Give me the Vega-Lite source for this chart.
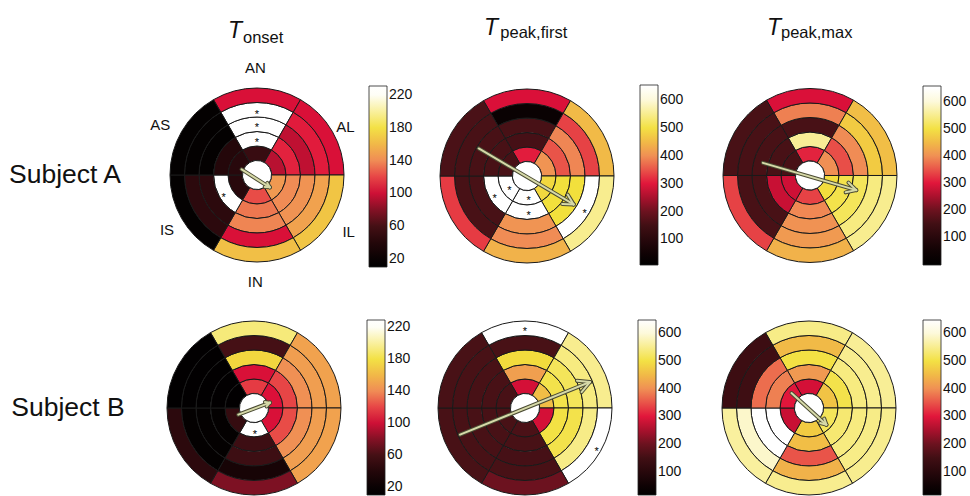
{
"$schema": "https://vega.github.io/schema/vega-lite/v6.json",
"padding": 0,
"spacing": 0,
"config": {"view": {"stroke": null}, "font": "Liberation Sans", "concat": {"spacing": 0},
  "legend": {"gradientStrokeColor": "#222222", "gradientStrokeWidth": 0.8, "labelFontSize": 14, "labelColor": "#111111", "labelOffset": 4, "padding": 0, "labelOverlap": false, "labelFont": "Liberation Sans"}},
"datasets": {
"cellsA1": [
{"s":"AN","a0":-30,"a1":30,"r0":1,"r1":2,"v":52},{"s":"AN","a0":-30,"a1":30,"r0":2,"r1":3,"v":225},{"s":"AN","a0":-30,"a1":30,"r0":3,"r1":4,"v":225},{"s":"AN","a0":-30,"a1":30,"r0":4,"r1":5,"v":225},{"s":"AN","a0":-30,"a1":30,"r0":5,"r1":6,"v":103},
{"s":"AL","a0":30,"a1":90,"r0":1,"r1":2,"v":94},{"s":"AL","a0":30,"a1":90,"r0":2,"r1":3,"v":110},{"s":"AL","a0":30,"a1":90,"r0":3,"r1":4,"v":96},{"s":"AL","a0":30,"a1":90,"r0":4,"r1":5,"v":108},{"s":"AL","a0":30,"a1":90,"r0":5,"r1":6,"v":103},
{"s":"IL","a0":90,"a1":150,"r0":1,"r1":2,"v":146},{"s":"IL","a0":90,"a1":150,"r0":2,"r1":3,"v":140},{"s":"IL","a0":90,"a1":150,"r0":3,"r1":4,"v":143},{"s":"IL","a0":90,"a1":150,"r0":4,"r1":5,"v":150},{"s":"IL","a0":90,"a1":150,"r0":5,"r1":6,"v":166},
{"s":"IN","a0":150,"a1":210,"r0":1,"r1":2,"v":122},{"s":"IN","a0":150,"a1":210,"r0":2,"r1":3,"v":134},{"s":"IN","a0":150,"a1":210,"r0":3,"r1":4,"v":138},{"s":"IN","a0":150,"a1":210,"r0":4,"r1":5,"v":103},{"s":"IN","a0":150,"a1":210,"r0":5,"r1":6,"v":163},
{"s":"IS","a0":210,"a1":270,"r0":1,"r1":2,"v":42},{"s":"IS","a0":210,"a1":270,"r0":2,"r1":3,"v":225},{"s":"IS","a0":210,"a1":270,"r0":3,"r1":4,"v":45},{"s":"IS","a0":210,"a1":270,"r0":4,"r1":5,"v":45},{"s":"IS","a0":210,"a1":270,"r0":5,"r1":6,"v":14},
{"s":"AS","a0":270,"a1":330,"r0":1,"r1":2,"v":42},{"s":"AS","a0":270,"a1":330,"r0":2,"r1":3,"v":40},{"s":"AS","a0":270,"a1":330,"r0":3,"r1":4,"v":14},{"s":"AS","a0":270,"a1":330,"r0":4,"r1":5,"v":14},{"s":"AS","a0":270,"a1":330,"r0":5,"r1":6,"v":14}
],
"cellsA2": [
{"s":"AN","a0":-30,"a1":30,"r0":1,"r1":2,"v":305},{"s":"AN","a0":-30,"a1":30,"r0":2,"r1":3,"v":160},{"s":"AN","a0":-30,"a1":30,"r0":3,"r1":4,"v":165},{"s":"AN","a0":-30,"a1":30,"r0":4,"r1":5,"v":35},{"s":"AN","a0":-30,"a1":30,"r0":5,"r1":6,"v":290},
{"s":"AL","a0":30,"a1":90,"r0":1,"r1":2,"v":405},{"s":"AL","a0":30,"a1":90,"r0":2,"r1":3,"v":350},{"s":"AL","a0":30,"a1":90,"r0":3,"r1":4,"v":390},{"s":"AL","a0":30,"a1":90,"r0":4,"r1":5,"v":335},{"s":"AL","a0":30,"a1":90,"r0":5,"r1":6,"v":450},
{"s":"IL","a0":90,"a1":150,"r0":1,"r1":2,"v":485},{"s":"IL","a0":90,"a1":150,"r0":2,"r1":3,"v":495},{"s":"IL","a0":90,"a1":150,"r0":3,"r1":4,"v":495},{"s":"IL","a0":90,"a1":150,"r0":4,"r1":5,"v":640},{"s":"IL","a0":90,"a1":150,"r0":5,"r1":6,"v":550},
{"s":"IN","a0":150,"a1":210,"r0":1,"r1":2,"v":640},{"s":"IN","a0":150,"a1":210,"r0":2,"r1":3,"v":640},{"s":"IN","a0":150,"a1":210,"r0":3,"r1":4,"v":405},{"s":"IN","a0":150,"a1":210,"r0":4,"r1":5,"v":395},{"s":"IN","a0":150,"a1":210,"r0":5,"r1":6,"v":440},
{"s":"IS","a0":210,"a1":270,"r0":1,"r1":2,"v":640},{"s":"IS","a0":210,"a1":270,"r0":2,"r1":3,"v":640},{"s":"IS","a0":210,"a1":270,"r0":3,"r1":4,"v":165},{"s":"IS","a0":210,"a1":270,"r0":4,"r1":5,"v":165},{"s":"IS","a0":210,"a1":270,"r0":5,"r1":6,"v":330},
{"s":"AS","a0":270,"a1":330,"r0":1,"r1":2,"v":165},{"s":"AS","a0":270,"a1":330,"r0":2,"r1":3,"v":165},{"s":"AS","a0":270,"a1":330,"r0":3,"r1":4,"v":165},{"s":"AS","a0":270,"a1":330,"r0":4,"r1":5,"v":165},{"s":"AS","a0":270,"a1":330,"r0":5,"r1":6,"v":168}
],
"cellsA3": [
{"s":"AN","a0":-30,"a1":30,"r0":1,"r1":2,"v":310},{"s":"AN","a0":-30,"a1":30,"r0":2,"r1":3,"v":555},{"s":"AN","a0":-30,"a1":30,"r0":3,"r1":4,"v":165},{"s":"AN","a0":-30,"a1":30,"r0":4,"r1":5,"v":385},{"s":"AN","a0":-30,"a1":30,"r0":5,"r1":6,"v":290},
{"s":"AL","a0":30,"a1":90,"r0":1,"r1":2,"v":398},{"s":"AL","a0":30,"a1":90,"r0":2,"r1":3,"v":345},{"s":"AL","a0":30,"a1":90,"r0":3,"r1":4,"v":395},{"s":"AL","a0":30,"a1":90,"r0":4,"r1":5,"v":470},{"s":"AL","a0":30,"a1":90,"r0":5,"r1":6,"v":455},
{"s":"IL","a0":90,"a1":150,"r0":1,"r1":2,"v":490},{"s":"IL","a0":90,"a1":150,"r0":2,"r1":3,"v":505},{"s":"IL","a0":90,"a1":150,"r0":3,"r1":4,"v":515},{"s":"IL","a0":90,"a1":150,"r0":4,"r1":5,"v":540},{"s":"IL","a0":90,"a1":150,"r0":5,"r1":6,"v":550},
{"s":"IN","a0":150,"a1":210,"r0":1,"r1":2,"v":335},{"s":"IN","a0":150,"a1":210,"r0":2,"r1":3,"v":392},{"s":"IN","a0":150,"a1":210,"r0":3,"r1":4,"v":402},{"s":"IN","a0":150,"a1":210,"r0":4,"r1":5,"v":412},{"s":"IN","a0":150,"a1":210,"r0":5,"r1":6,"v":440},
{"s":"IS","a0":210,"a1":270,"r0":1,"r1":2,"v":280},{"s":"IS","a0":210,"a1":270,"r0":2,"r1":3,"v":275},{"s":"IS","a0":210,"a1":270,"r0":3,"r1":4,"v":165},{"s":"IS","a0":210,"a1":270,"r0":4,"r1":5,"v":165},{"s":"IS","a0":210,"a1":270,"r0":5,"r1":6,"v":335},
{"s":"AS","a0":270,"a1":330,"r0":1,"r1":2,"v":165},{"s":"AS","a0":270,"a1":330,"r0":2,"r1":3,"v":165},{"s":"AS","a0":270,"a1":330,"r0":3,"r1":4,"v":165},{"s":"AS","a0":270,"a1":330,"r0":4,"r1":5,"v":165},{"s":"AS","a0":270,"a1":330,"r0":5,"r1":6,"v":165}
],
"cellsB1": [
{"s":"AN","a0":-30,"a1":30,"r0":1,"r1":2,"v":117},{"s":"AN","a0":-30,"a1":30,"r0":2,"r1":3,"v":103},{"s":"AN","a0":-30,"a1":30,"r0":3,"r1":4,"v":174},{"s":"AN","a0":-30,"a1":30,"r0":4,"r1":5,"v":60},{"s":"AN","a0":-30,"a1":30,"r0":5,"r1":6,"v":192},
{"s":"AL","a0":30,"a1":90,"r0":1,"r1":2,"v":104},{"s":"AL","a0":30,"a1":90,"r0":2,"r1":3,"v":120},{"s":"AL","a0":30,"a1":90,"r0":3,"r1":4,"v":142},{"s":"AL","a0":30,"a1":90,"r0":4,"r1":5,"v":148},{"s":"AL","a0":30,"a1":90,"r0":5,"r1":6,"v":150},
{"s":"IL","a0":90,"a1":150,"r0":1,"r1":2,"v":103},{"s":"IL","a0":90,"a1":150,"r0":2,"r1":3,"v":122},{"s":"IL","a0":90,"a1":150,"r0":3,"r1":4,"v":142},{"s":"IL","a0":90,"a1":150,"r0":4,"r1":5,"v":148},{"s":"IL","a0":90,"a1":150,"r0":5,"r1":6,"v":150},
{"s":"IN","a0":150,"a1":210,"r0":1,"r1":2,"v":225},{"s":"IN","a0":150,"a1":210,"r0":2,"r1":3,"v":55},{"s":"IN","a0":150,"a1":210,"r0":3,"r1":4,"v":55},{"s":"IN","a0":150,"a1":210,"r0":4,"r1":5,"v":32},{"s":"IN","a0":150,"a1":210,"r0":5,"r1":6,"v":78},
{"s":"IS","a0":210,"a1":270,"r0":1,"r1":2,"v":50},{"s":"IS","a0":210,"a1":270,"r0":2,"r1":3,"v":14},{"s":"IS","a0":210,"a1":270,"r0":3,"r1":4,"v":14},{"s":"IS","a0":210,"a1":270,"r0":4,"r1":5,"v":14},{"s":"IS","a0":210,"a1":270,"r0":5,"r1":6,"v":45},
{"s":"AS","a0":270,"a1":330,"r0":1,"r1":2,"v":12},{"s":"AS","a0":270,"a1":330,"r0":2,"r1":3,"v":12},{"s":"AS","a0":270,"a1":330,"r0":3,"r1":4,"v":12},{"s":"AS","a0":270,"a1":330,"r0":4,"r1":5,"v":12},{"s":"AS","a0":270,"a1":330,"r0":5,"r1":6,"v":12}
],
"cellsB2": [
{"s":"AN","a0":-30,"a1":30,"r0":1,"r1":2,"v":285},{"s":"AN","a0":-30,"a1":30,"r0":2,"r1":3,"v":418},{"s":"AN","a0":-30,"a1":30,"r0":3,"r1":4,"v":490},{"s":"AN","a0":-30,"a1":30,"r0":4,"r1":5,"v":165},{"s":"AN","a0":-30,"a1":30,"r0":5,"r1":6,"v":640},
{"s":"AL","a0":30,"a1":90,"r0":1,"r1":2,"v":455},{"s":"AL","a0":30,"a1":90,"r0":2,"r1":3,"v":505},{"s":"AL","a0":30,"a1":90,"r0":3,"r1":4,"v":515},{"s":"AL","a0":30,"a1":90,"r0":4,"r1":5,"v":540},{"s":"AL","a0":30,"a1":90,"r0":5,"r1":6,"v":550},
{"s":"IL","a0":90,"a1":150,"r0":1,"r1":2,"v":285},{"s":"IL","a0":90,"a1":150,"r0":2,"r1":3,"v":500},{"s":"IL","a0":90,"a1":150,"r0":3,"r1":4,"v":505},{"s":"IL","a0":90,"a1":150,"r0":4,"r1":5,"v":545},{"s":"IL","a0":90,"a1":150,"r0":5,"r1":6,"v":640},
{"s":"IN","a0":150,"a1":210,"r0":1,"r1":2,"v":170},{"s":"IN","a0":150,"a1":210,"r0":2,"r1":3,"v":165},{"s":"IN","a0":150,"a1":210,"r0":3,"r1":4,"v":160},{"s":"IN","a0":150,"a1":210,"r0":4,"r1":5,"v":165},{"s":"IN","a0":150,"a1":210,"r0":5,"r1":6,"v":200},
{"s":"IS","a0":210,"a1":270,"r0":1,"r1":2,"v":165},{"s":"IS","a0":210,"a1":270,"r0":2,"r1":3,"v":165},{"s":"IS","a0":210,"a1":270,"r0":3,"r1":4,"v":165},{"s":"IS","a0":210,"a1":270,"r0":4,"r1":5,"v":165},{"s":"IS","a0":210,"a1":270,"r0":5,"r1":6,"v":165},
{"s":"AS","a0":270,"a1":330,"r0":1,"r1":2,"v":165},{"s":"AS","a0":270,"a1":330,"r0":2,"r1":3,"v":165},{"s":"AS","a0":270,"a1":330,"r0":3,"r1":4,"v":165},{"s":"AS","a0":270,"a1":330,"r0":4,"r1":5,"v":165},{"s":"AS","a0":270,"a1":330,"r0":5,"r1":6,"v":165}
],
"cellsB3": [
{"s":"AN","a0":-30,"a1":30,"r0":1,"r1":2,"v":285},{"s":"AN","a0":-30,"a1":30,"r0":2,"r1":3,"v":410},{"s":"AN","a0":-30,"a1":30,"r0":3,"r1":4,"v":500},{"s":"AN","a0":-30,"a1":30,"r0":4,"r1":5,"v":450},{"s":"AN","a0":-30,"a1":30,"r0":5,"r1":6,"v":545},
{"s":"AL","a0":30,"a1":90,"r0":1,"r1":2,"v":460},{"s":"AL","a0":30,"a1":90,"r0":2,"r1":3,"v":505},{"s":"AL","a0":30,"a1":90,"r0":3,"r1":4,"v":540},{"s":"AL","a0":30,"a1":90,"r0":4,"r1":5,"v":550},{"s":"AL","a0":30,"a1":90,"r0":5,"r1":6,"v":555},
{"s":"IL","a0":90,"a1":150,"r0":1,"r1":2,"v":515},{"s":"IL","a0":90,"a1":150,"r0":2,"r1":3,"v":530},{"s":"IL","a0":90,"a1":150,"r0":3,"r1":4,"v":540},{"s":"IL","a0":90,"a1":150,"r0":4,"r1":5,"v":545},{"s":"IL","a0":90,"a1":150,"r0":5,"r1":6,"v":550},
{"s":"IN","a0":150,"a1":210,"r0":1,"r1":2,"v":470},{"s":"IN","a0":150,"a1":210,"r0":2,"r1":3,"v":455},{"s":"IN","a0":150,"a1":210,"r0":3,"r1":4,"v":350},{"s":"IN","a0":150,"a1":210,"r0":4,"r1":5,"v":440},{"s":"IN","a0":150,"a1":210,"r0":5,"r1":6,"v":550},
{"s":"IS","a0":210,"a1":270,"r0":1,"r1":2,"v":275},{"s":"IS","a0":210,"a1":270,"r0":2,"r1":3,"v":635},{"s":"IS","a0":210,"a1":270,"r0":3,"r1":4,"v":635},{"s":"IS","a0":210,"a1":270,"r0":4,"r1":5,"v":590},{"s":"IS","a0":210,"a1":270,"r0":5,"r1":6,"v":560},
{"s":"AS","a0":270,"a1":330,"r0":1,"r1":2,"v":300},{"s":"AS","a0":270,"a1":330,"r0":2,"r1":3,"v":385},{"s":"AS","a0":270,"a1":330,"r0":3,"r1":4,"v":370},{"s":"AS","a0":270,"a1":330,"r0":4,"r1":5,"v":145},{"s":"AS","a0":270,"a1":330,"r0":5,"r1":6,"v":140}
],
"hole": [{"a0": -30, "a1": 330, "r0": 0, "r1": 1}],
"arrowA1": [{"x":-1.06,"y":0.39,"x2":0.88,"y2":-0.85},{"x":0.531,"y":-0.822,"x2":0.88,"y2":-0.85},{"x":0.708,"y":-0.545,"x2":0.88,"y2":-0.85}],
"arrowA2": [{"x":-3.33,"y":1.9,"x2":3.22,"y2":-1.96},{"x":2.421,"y":-1.924,"x2":3.22,"y2":-1.96},{"x":2.802,"y":-1.278,"x2":3.22,"y2":-1.96}],
"arrowA3": [{"x":-3.25,"y":0.87,"x2":3.19,"y2":-1.01},{"x":2.456,"y":-1.162,"x2":3.19,"y2":-1.01},{"x":2.652,"y":-0.487,"x2":3.19,"y2":-1.01}],
"arrowB1": [{"x":-1.08,"y":-0.46,"x2":1.1,"y2":0.37},{"x":0.87,"y":0.107,"x2":1.1,"y2":0.37},{"x":0.753,"y":0.413,"x2":1.1,"y2":0.37}],
"arrowB2": [{"x":-4.48,"y":-1.84,"x2":4.48,"y2":1.79},{"x":3.901,"y":1.1,"x2":4.48,"y2":1.79},{"x":3.584,"y":1.883,"x2":4.48,"y2":1.79}],
"arrowB3": [{"x":-1.21,"y":1.03,"x2":1.2,"y2":-1.15},{"x":0.763,"y":-1.04,"x2":1.2,"y2":-1.15},{"x":1.047,"y":-0.727,"x2":1.2,"y2":-1.15}],
"starA1": [{"x":0,"y":4.35},{"x":0,"y":3.43},{"x":0,"y":2.4},{"x":-2.3,"y":-1.4}],
"starA2": [{"x":-2.23,"y":-1.38},{"x":-1.22,"y":-0.81},{"x":0.12,"y":-1.5},{"x":0.12,"y":-2.53},{"x":3.98,"y":-2.41}],
"starB1": [{"x":0.07,"y":-1.66}],
"starB2": [{"x":0,"y":5.42},{"x":4.94,"y":-2.81}],
"sectors": [{"x":-0.117,"y":7.359,"label":"AN"},{"x":6.09,"y":3.331,"label":"AL"},{"x":6.324,"y":-3.91,"label":"IL"},{"x":-0.117,"y":-7.36,"label":"IN"},{"x":-6.207,"y":-3.793,"label":"IS"},{"x":-6.669,"y":3.448,"label":"AS"}]
},
"resolve": {"scale": {"color": "independent", "x": "independent", "y": "independent", "theta": "independent", "radius": "independent"}, "legend": {"color": "independent"}},
"vconcat": [
{
"spacing": 0,
"resolve": {"scale": {"color": "independent", "x": "independent", "y": "independent", "theta": "independent", "radius": "independent"}, "legend": {"color": "independent"}},
"hconcat": [
{"width": 150, "height": 290,
 "data": {"values": [{"x": 0.06, "y": 0.369, "label": "Subject A"}]},
 "mark": {"type": "text", "align": "left", "baseline": "alphabetic", "fontSize": 26.5, "color": "#111111"},
 "encoding": {"x": {"field": "x", "type": "quantitative", "scale": {"domain": [0, 1], "nice": false, "zero": false}, "axis": null},
  "y": {"field": "y", "type": "quantitative", "scale": {"domain": [0, 1], "nice": false, "zero": false}, "axis": null},
  "text": {"field": "label"}}},
{"width": 270, "height": 290,
 "layer": [
  {"data": {"name": "cellsA1"},
   "mark": {"type": "arc", "stroke": "#1a1a1a", "strokeWidth": 1},
   "encoding": {
    "x": {"datum": 0, "type": "quantitative", "scale": {"domain": [-7.2414, 11.3793], "nice": false, "zero": false}, "axis": null},
    "y": {"datum": 0, "type": "quantitative", "scale": {"domain": [-7.931, 12.069], "nice": false, "zero": false}, "axis": null},
    "theta": {"field": "a0", "type": "quantitative", "stack": null, "scale": {"domain": [0, 360], "range": [0, 6.283185307179586], "nice": false, "zero": false}},
    "theta2": {"field": "a1"},
    "radius": {"field": "r0", "type": "quantitative", "scale": {"type": "linear", "domain": [0, 6], "range": [0, 87], "nice": false, "zero": false}},
    "radius2": {"field": "r1"},
    "color": {"field": "v", "type": "quantitative",
     "scale": {"type": "linear", "domain": [10, 30, 65, 105, 140, 178, 222, 231], "range": ["#000000", "#140305", "#4d1218", "#e0103a", "#f08c55", "#f2e03c", "#ffffff", "#ffffff"], "interpolate": "rgb", "clamp": true},
     "legend": {"orient": "none", "legendX": 217, "legendY": 86, "gradientLength": 181, "gradientThickness": 18, "values": [20, 60, 100, 140, 180, 220], "title": null, "direction": "vertical"}}}},
  {"data": {"name": "hole"},
   "mark": {"type": "arc", "fill": "#ffffff", "stroke": "#1a1a1a", "strokeWidth": 1},
   "encoding": {
    "x": {"datum": 0, "type": "quantitative", "scale": {"domain": [-7.2414, 11.3793], "nice": false, "zero": false}, "axis": null},
    "y": {"datum": 0, "type": "quantitative", "scale": {"domain": [-7.931, 12.069], "nice": false, "zero": false}, "axis": null},
    "theta": {"field": "a0", "type": "quantitative", "stack": null, "scale": {"domain": [0, 360], "range": [0, 6.283185307179586], "nice": false, "zero": false}},
    "theta2": {"field": "a1"},
    "radius": {"field": "r0", "type": "quantitative", "scale": {"type": "linear", "domain": [0, 6], "range": [0, 87], "nice": false, "zero": false}},
    "radius2": {"field": "r1"}}},
  {"data": {"name": "starA1"},
   "mark": {"type": "text", "text": "*", "fontSize": 11, "dy": 3, "color": "#000000"},
   "encoding": {
    "x": {"field": "x", "type": "quantitative", "scale": {"domain": [-7.2414, 11.3793], "nice": false, "zero": false}, "axis": null},
    "y": {"field": "y", "type": "quantitative", "scale": {"domain": [-7.931, 12.069], "nice": false, "zero": false}, "axis": null}}},
  {"data": {"name": "arrowA1"},
   "mark": {"type": "rule", "stroke": "#4b4b33", "strokeWidth": 4, "strokeCap": "round"},
   "encoding": {
    "x": {"field": "x", "type": "quantitative", "scale": {"domain": [-7.2414, 11.3793], "nice": false, "zero": false}, "axis": null},
    "y": {"field": "y", "type": "quantitative", "scale": {"domain": [-7.931, 12.069], "nice": false, "zero": false}, "axis": null},
    "x2": {"field": "x2"}, "y2": {"field": "y2"}}},
  {"data": {"name": "arrowA1"},
   "mark": {"type": "rule", "stroke": "#d6d9a8", "strokeWidth": 2, "strokeCap": "round"},
   "encoding": {
    "x": {"field": "x", "type": "quantitative", "scale": {"domain": [-7.2414, 11.3793], "nice": false, "zero": false}, "axis": null},
    "y": {"field": "y", "type": "quantitative", "scale": {"domain": [-7.931, 12.069], "nice": false, "zero": false}, "axis": null},
    "x2": {"field": "x2"}, "y2": {"field": "y2"}}},
  {"data": {"name": "sectors"},
   "mark": {"type": "text", "fontSize": 15, "color": "#111111", "align": "center", "baseline": "middle"},
   "encoding": {
    "x": {"field": "x", "type": "quantitative", "scale": {"domain": [-7.2414, 11.3793], "nice": false, "zero": false}, "axis": null},
    "y": {"field": "y", "type": "quantitative", "scale": {"domain": [-7.931, 12.069], "nice": false, "zero": false}, "axis": null},
    "text": {"field": "label"}}},
  {"data": {"values": [{"x": -2.0, "y": 9.428, "label": "T"}]},
   "mark": {"type": "text", "align": "left", "baseline": "alphabetic", "fontSize": 23, "fontStyle": "italic", "color": "#111111"},
   "encoding": {
    "x": {"field": "x", "type": "quantitative", "scale": {"domain": [-7.2414, 11.3793], "nice": false, "zero": false}, "axis": null},
    "y": {"field": "y", "type": "quantitative", "scale": {"domain": [-7.931, 12.069], "nice": false, "zero": false}, "axis": null},
    "text": {"field": "label"}}},
  {"data": {"values": [{"x": -0.966, "y": 9.083, "label": "onset"}]},
   "mark": {"type": "text", "align": "left", "baseline": "alphabetic", "fontSize": 16.5, "color": "#111111"},
   "encoding": {
    "x": {"field": "x", "type": "quantitative", "scale": {"domain": [-7.2414, 11.3793], "nice": false, "zero": false}, "axis": null},
    "y": {"field": "y", "type": "quantitative", "scale": {"domain": [-7.931, 12.069], "nice": false, "zero": false}, "axis": null},
    "text": {"field": "label"}}}
 ]},
{"width": 270, "height": 290,
 "layer": [
  {"data": {"name": "cellsA2"},
   "mark": {"type": "arc", "stroke": "#1a1a1a", "strokeWidth": 1},
   "encoding": {
    "x": {"datum": 0, "type": "quantitative", "scale": {"domain": [-7.2414, 11.3793], "nice": false, "zero": false}, "axis": null},
    "y": {"datum": 0, "type": "quantitative", "scale": {"domain": [-7.8621, 12.1379], "nice": false, "zero": false}, "axis": null},
    "theta": {"field": "a0", "type": "quantitative", "stack": null, "scale": {"domain": [0, 360], "range": [0, 6.283185307179586], "nice": false, "zero": false}},
    "theta2": {"field": "a1"},
    "radius": {"field": "r0", "type": "quantitative", "scale": {"type": "linear", "domain": [0, 6], "range": [0, 87], "nice": false, "zero": false}},
    "radius2": {"field": "r1"},
    "color": {"field": "v", "type": "quantitative",
     "scale": {"type": "linear", "domain": [8, 60, 175, 295, 395, 495, 625, 654], "range": ["#000000", "#140305", "#4d1218", "#e0103a", "#f08c55", "#f2e03c", "#ffffff", "#ffffff"], "interpolate": "rgb", "clamp": true},
     "legend": {"orient": "none", "legendX": 218, "legendY": 85, "gradientLength": 180, "gradientThickness": 18, "values": [100, 200, 300, 400, 500, 600], "title": null, "direction": "vertical"}}}},
  {"data": {"name": "hole"},
   "mark": {"type": "arc", "fill": "#ffffff", "stroke": "#1a1a1a", "strokeWidth": 1},
   "encoding": {
    "x": {"datum": 0, "type": "quantitative", "scale": {"domain": [-7.2414, 11.3793], "nice": false, "zero": false}, "axis": null},
    "y": {"datum": 0, "type": "quantitative", "scale": {"domain": [-7.8621, 12.1379], "nice": false, "zero": false}, "axis": null},
    "theta": {"field": "a0", "type": "quantitative", "stack": null, "scale": {"domain": [0, 360], "range": [0, 6.283185307179586], "nice": false, "zero": false}},
    "theta2": {"field": "a1"},
    "radius": {"field": "r0", "type": "quantitative", "scale": {"type": "linear", "domain": [0, 6], "range": [0, 87], "nice": false, "zero": false}},
    "radius2": {"field": "r1"}}},
  {"data": {"name": "starA2"},
   "mark": {"type": "text", "text": "*", "fontSize": 11, "dy": 3, "color": "#000000"},
   "encoding": {
    "x": {"field": "x", "type": "quantitative", "scale": {"domain": [-7.2414, 11.3793], "nice": false, "zero": false}, "axis": null},
    "y": {"field": "y", "type": "quantitative", "scale": {"domain": [-7.8621, 12.1379], "nice": false, "zero": false}, "axis": null}}},
  {"data": {"name": "arrowA2"},
   "mark": {"type": "rule", "stroke": "#4b4b33", "strokeWidth": 4, "strokeCap": "round"},
   "encoding": {
    "x": {"field": "x", "type": "quantitative", "scale": {"domain": [-7.2414, 11.3793], "nice": false, "zero": false}, "axis": null},
    "y": {"field": "y", "type": "quantitative", "scale": {"domain": [-7.8621, 12.1379], "nice": false, "zero": false}, "axis": null},
    "x2": {"field": "x2"}, "y2": {"field": "y2"}}},
  {"data": {"name": "arrowA2"},
   "mark": {"type": "rule", "stroke": "#d6d9a8", "strokeWidth": 2, "strokeCap": "round"},
   "encoding": {
    "x": {"field": "x", "type": "quantitative", "scale": {"domain": [-7.2414, 11.3793], "nice": false, "zero": false}, "axis": null},
    "y": {"field": "y", "type": "quantitative", "scale": {"domain": [-7.8621, 12.1379], "nice": false, "zero": false}, "axis": null},
    "x2": {"field": "x2"}, "y2": {"field": "y2"}}},
  {"data": {"values": [{"x": -2.966, "y": 9.724, "label": "T"}]},
   "mark": {"type": "text", "align": "left", "baseline": "alphabetic", "fontSize": 23, "fontStyle": "italic", "color": "#111111"},
   "encoding": {
    "x": {"field": "x", "type": "quantitative", "scale": {"domain": [-7.2414, 11.3793], "nice": false, "zero": false}, "axis": null},
    "y": {"field": "y", "type": "quantitative", "scale": {"domain": [-7.8621, 12.1379], "nice": false, "zero": false}, "axis": null},
    "text": {"field": "label"}}},
  {"data": {"values": [{"x": -1.841, "y": 9.531, "label": "peak,first"}]},
   "mark": {"type": "text", "align": "left", "baseline": "alphabetic", "fontSize": 16.5, "color": "#111111"},
   "encoding": {
    "x": {"field": "x", "type": "quantitative", "scale": {"domain": [-7.2414, 11.3793], "nice": false, "zero": false}, "axis": null},
    "y": {"field": "y", "type": "quantitative", "scale": {"domain": [-7.8621, 12.1379], "nice": false, "zero": false}, "axis": null},
    "text": {"field": "label"}}}
 ]},
{"width": 280, "height": 290,
 "layer": [
  {"data": {"name": "cellsA3"},
   "mark": {"type": "arc", "stroke": "#1a1a1a", "strokeWidth": 1},
   "encoding": {
    "x": {"datum": 0, "type": "quantitative", "scale": {"domain": [-8.1379, 11.1724], "nice": false, "zero": false}, "axis": null},
    "y": {"datum": 0, "type": "quantitative", "scale": {"domain": [-7.8966, 12.1034], "nice": false, "zero": false}, "axis": null},
    "theta": {"field": "a0", "type": "quantitative", "stack": null, "scale": {"domain": [0, 360], "range": [0, 6.283185307179586], "nice": false, "zero": false}},
    "theta2": {"field": "a1"},
    "radius": {"field": "r0", "type": "quantitative", "scale": {"type": "linear", "domain": [0, 6], "range": [0, 87], "nice": false, "zero": false}},
    "radius2": {"field": "r1"},
    "color": {"field": "v", "type": "quantitative",
     "scale": {"type": "linear", "domain": [-2, 60, 175, 295, 395, 495, 625, 658], "range": ["#000000", "#140305", "#4d1218", "#e0103a", "#f08c55", "#f2e03c", "#ffffff", "#ffffff"], "interpolate": "rgb", "clamp": true},
     "legend": {"orient": "none", "legendX": 231, "legendY": 86, "gradientLength": 179, "gradientThickness": 18, "values": [100, 200, 300, 400, 500, 600], "title": null, "direction": "vertical"}}}},
  {"data": {"name": "hole"},
   "mark": {"type": "arc", "fill": "#ffffff", "stroke": "#1a1a1a", "strokeWidth": 1},
   "encoding": {
    "x": {"datum": 0, "type": "quantitative", "scale": {"domain": [-8.1379, 11.1724], "nice": false, "zero": false}, "axis": null},
    "y": {"datum": 0, "type": "quantitative", "scale": {"domain": [-7.8966, 12.1034], "nice": false, "zero": false}, "axis": null},
    "theta": {"field": "a0", "type": "quantitative", "stack": null, "scale": {"domain": [0, 360], "range": [0, 6.283185307179586], "nice": false, "zero": false}},
    "theta2": {"field": "a1"},
    "radius": {"field": "r0", "type": "quantitative", "scale": {"type": "linear", "domain": [0, 6], "range": [0, 87], "nice": false, "zero": false}},
    "radius2": {"field": "r1"}}},
  {"data": {"name": "arrowA3"},
   "mark": {"type": "rule", "stroke": "#4b4b33", "strokeWidth": 4, "strokeCap": "round"},
   "encoding": {
    "x": {"field": "x", "type": "quantitative", "scale": {"domain": [-8.1379, 11.1724], "nice": false, "zero": false}, "axis": null},
    "y": {"field": "y", "type": "quantitative", "scale": {"domain": [-7.8966, 12.1034], "nice": false, "zero": false}, "axis": null},
    "x2": {"field": "x2"}, "y2": {"field": "y2"}}},
  {"data": {"name": "arrowA3"},
   "mark": {"type": "rule", "stroke": "#d6d9a8", "strokeWidth": 2, "strokeCap": "round"},
   "encoding": {
    "x": {"field": "x", "type": "quantitative", "scale": {"domain": [-8.1379, 11.1724], "nice": false, "zero": false}, "axis": null},
    "y": {"field": "y", "type": "quantitative", "scale": {"domain": [-7.8966, 12.1034], "nice": false, "zero": false}, "axis": null},
    "x2": {"field": "x2"}, "y2": {"field": "y2"}}},
  {"data": {"values": [{"x": -2.966, "y": 9.69, "label": "T"}]},
   "mark": {"type": "text", "align": "left", "baseline": "alphabetic", "fontSize": 23, "fontStyle": "italic", "color": "#111111"},
   "encoding": {
    "x": {"field": "x", "type": "quantitative", "scale": {"domain": [-8.1379, 11.1724], "nice": false, "zero": false}, "axis": null},
    "y": {"field": "y", "type": "quantitative", "scale": {"domain": [-7.8966, 12.1034], "nice": false, "zero": false}, "axis": null},
    "text": {"field": "label"}}},
  {"data": {"values": [{"x": -2.0, "y": 9.517, "label": "peak,max"}]},
   "mark": {"type": "text", "align": "left", "baseline": "alphabetic", "fontSize": 16.5, "color": "#111111"},
   "encoding": {
    "x": {"field": "x", "type": "quantitative", "scale": {"domain": [-8.1379, 11.1724], "nice": false, "zero": false}, "axis": null},
    "y": {"field": "y", "type": "quantitative", "scale": {"domain": [-7.8966, 12.1034], "nice": false, "zero": false}, "axis": null},
    "text": {"field": "label"}}}
 ]}
]
},
{
"spacing": 0,
"resolve": {"scale": {"color": "independent", "x": "independent", "y": "independent", "theta": "independent", "radius": "independent"}, "legend": {"color": "independent"}},
"hconcat": [
{"width": 150, "height": 206,
 "data": {"values": [{"x": 0.075, "y": 0.388, "label": "Subject B"}]},
 "mark": {"type": "text", "align": "left", "baseline": "alphabetic", "fontSize": 26.5, "color": "#111111"},
 "encoding": {"x": {"field": "x", "type": "quantitative", "scale": {"domain": [0, 1], "nice": false, "zero": false}, "axis": null},
  "y": {"field": "y", "type": "quantitative", "scale": {"domain": [0, 1], "nice": false, "zero": false}, "axis": null},
  "text": {"field": "label"}}},
{"width": 270, "height": 206,
 "layer": [
  {"data": {"name": "cellsB1"},
   "mark": {"type": "arc", "stroke": "#1a1a1a", "strokeWidth": 1},
   "encoding": {
    "x": {"datum": 0, "type": "quantitative", "scale": {"domain": [-7.1724, 11.4483], "nice": false, "zero": false}, "axis": null},
    "y": {"datum": 0, "type": "quantitative", "scale": {"domain": [-6.069, 8.1379], "nice": false, "zero": false}, "axis": null},
    "theta": {"field": "a0", "type": "quantitative", "stack": null, "scale": {"domain": [0, 360], "range": [0, 6.283185307179586], "nice": false, "zero": false}},
    "theta2": {"field": "a1"},
    "radius": {"field": "r0", "type": "quantitative", "scale": {"type": "linear", "domain": [0, 6], "range": [0, 87], "nice": false, "zero": false}},
    "radius2": {"field": "r1"},
    "color": {"field": "v", "type": "quantitative",
     "scale": {"type": "linear", "domain": [10, 30, 65, 105, 140, 178, 222, 229], "range": ["#000000", "#140305", "#4d1218", "#e0103a", "#f08c55", "#f2e03c", "#ffffff", "#ffffff"], "interpolate": "rgb", "clamp": true},
     "legend": {"orient": "none", "legendX": 217, "legendY": 30, "gradientLength": 175, "gradientThickness": 18, "values": [20, 60, 100, 140, 180, 220], "title": null, "direction": "vertical"}}}},
  {"data": {"name": "hole"},
   "mark": {"type": "arc", "fill": "#ffffff", "stroke": "#1a1a1a", "strokeWidth": 1},
   "encoding": {
    "x": {"datum": 0, "type": "quantitative", "scale": {"domain": [-7.1724, 11.4483], "nice": false, "zero": false}, "axis": null},
    "y": {"datum": 0, "type": "quantitative", "scale": {"domain": [-6.069, 8.1379], "nice": false, "zero": false}, "axis": null},
    "theta": {"field": "a0", "type": "quantitative", "stack": null, "scale": {"domain": [0, 360], "range": [0, 6.283185307179586], "nice": false, "zero": false}},
    "theta2": {"field": "a1"},
    "radius": {"field": "r0", "type": "quantitative", "scale": {"type": "linear", "domain": [0, 6], "range": [0, 87], "nice": false, "zero": false}},
    "radius2": {"field": "r1"}}},
  {"data": {"name": "starB1"},
   "mark": {"type": "text", "text": "*", "fontSize": 11, "dy": 3, "color": "#000000"},
   "encoding": {
    "x": {"field": "x", "type": "quantitative", "scale": {"domain": [-7.1724, 11.4483], "nice": false, "zero": false}, "axis": null},
    "y": {"field": "y", "type": "quantitative", "scale": {"domain": [-6.069, 8.1379], "nice": false, "zero": false}, "axis": null}}},
  {"data": {"name": "arrowB1"},
   "mark": {"type": "rule", "stroke": "#4b4b33", "strokeWidth": 4, "strokeCap": "round"},
   "encoding": {
    "x": {"field": "x", "type": "quantitative", "scale": {"domain": [-7.1724, 11.4483], "nice": false, "zero": false}, "axis": null},
    "y": {"field": "y", "type": "quantitative", "scale": {"domain": [-6.069, 8.1379], "nice": false, "zero": false}, "axis": null},
    "x2": {"field": "x2"}, "y2": {"field": "y2"}}},
  {"data": {"name": "arrowB1"},
   "mark": {"type": "rule", "stroke": "#d6d9a8", "strokeWidth": 2, "strokeCap": "round"},
   "encoding": {
    "x": {"field": "x", "type": "quantitative", "scale": {"domain": [-7.1724, 11.4483], "nice": false, "zero": false}, "axis": null},
    "y": {"field": "y", "type": "quantitative", "scale": {"domain": [-6.069, 8.1379], "nice": false, "zero": false}, "axis": null},
    "x2": {"field": "x2"}, "y2": {"field": "y2"}}}
 ]},
{"width": 270, "height": 206,
 "layer": [
  {"data": {"name": "cellsB2"},
   "mark": {"type": "arc", "stroke": "#1a1a1a", "strokeWidth": 1},
   "encoding": {
    "x": {"datum": 0, "type": "quantitative", "scale": {"domain": [-7.2414, 11.3793], "nice": false, "zero": false}, "axis": null},
    "y": {"datum": 0, "type": "quantitative", "scale": {"domain": [-6.069, 8.1379], "nice": false, "zero": false}, "axis": null},
    "theta": {"field": "a0", "type": "quantitative", "stack": null, "scale": {"domain": [0, 360], "range": [0, 6.283185307179586], "nice": false, "zero": false}},
    "theta2": {"field": "a1"},
    "radius": {"field": "r0", "type": "quantitative", "scale": {"type": "linear", "domain": [0, 6], "range": [0, 87], "nice": false, "zero": false}},
    "radius2": {"field": "r1"},
    "color": {"field": "v", "type": "quantitative",
     "scale": {"type": "linear", "domain": [16, 60, 175, 295, 395, 495, 625, 648], "range": ["#000000", "#140305", "#4d1218", "#e0103a", "#f08c55", "#f2e03c", "#ffffff", "#ffffff"], "interpolate": "rgb", "clamp": true},
     "legend": {"orient": "none", "legendX": 218, "legendY": 30, "gradientLength": 175, "gradientThickness": 18, "values": [100, 200, 300, 400, 500, 600], "title": null, "direction": "vertical"}}}},
  {"data": {"name": "hole"},
   "mark": {"type": "arc", "fill": "#ffffff", "stroke": "#1a1a1a", "strokeWidth": 1},
   "encoding": {
    "x": {"datum": 0, "type": "quantitative", "scale": {"domain": [-7.2414, 11.3793], "nice": false, "zero": false}, "axis": null},
    "y": {"datum": 0, "type": "quantitative", "scale": {"domain": [-6.069, 8.1379], "nice": false, "zero": false}, "axis": null},
    "theta": {"field": "a0", "type": "quantitative", "stack": null, "scale": {"domain": [0, 360], "range": [0, 6.283185307179586], "nice": false, "zero": false}},
    "theta2": {"field": "a1"},
    "radius": {"field": "r0", "type": "quantitative", "scale": {"type": "linear", "domain": [0, 6], "range": [0, 87], "nice": false, "zero": false}},
    "radius2": {"field": "r1"}}},
  {"data": {"name": "starB2"},
   "mark": {"type": "text", "text": "*", "fontSize": 11, "dy": 3, "color": "#000000"},
   "encoding": {
    "x": {"field": "x", "type": "quantitative", "scale": {"domain": [-7.2414, 11.3793], "nice": false, "zero": false}, "axis": null},
    "y": {"field": "y", "type": "quantitative", "scale": {"domain": [-6.069, 8.1379], "nice": false, "zero": false}, "axis": null}}},
  {"data": {"name": "arrowB2"},
   "mark": {"type": "rule", "stroke": "#4b4b33", "strokeWidth": 4, "strokeCap": "round"},
   "encoding": {
    "x": {"field": "x", "type": "quantitative", "scale": {"domain": [-7.2414, 11.3793], "nice": false, "zero": false}, "axis": null},
    "y": {"field": "y", "type": "quantitative", "scale": {"domain": [-6.069, 8.1379], "nice": false, "zero": false}, "axis": null},
    "x2": {"field": "x2"}, "y2": {"field": "y2"}}},
  {"data": {"name": "arrowB2"},
   "mark": {"type": "rule", "stroke": "#d6d9a8", "strokeWidth": 2, "strokeCap": "round"},
   "encoding": {
    "x": {"field": "x", "type": "quantitative", "scale": {"domain": [-7.2414, 11.3793], "nice": false, "zero": false}, "axis": null},
    "y": {"field": "y", "type": "quantitative", "scale": {"domain": [-6.069, 8.1379], "nice": false, "zero": false}, "axis": null},
    "x2": {"field": "x2"}, "y2": {"field": "y2"}}}
 ]},
{"width": 280, "height": 206,
 "layer": [
  {"data": {"name": "cellsB3"},
   "mark": {"type": "arc", "stroke": "#1a1a1a", "strokeWidth": 1},
   "encoding": {
    "x": {"datum": 0, "type": "quantitative", "scale": {"domain": [-8.2069, 11.1034], "nice": false, "zero": false}, "axis": null},
    "y": {"datum": 0, "type": "quantitative", "scale": {"domain": [-6.069, 8.1379], "nice": false, "zero": false}, "axis": null},
    "theta": {"field": "a0", "type": "quantitative", "stack": null, "scale": {"domain": [0, 360], "range": [0, 6.283185307179586], "nice": false, "zero": false}},
    "theta2": {"field": "a1"},
    "radius": {"field": "r0", "type": "quantitative", "scale": {"type": "linear", "domain": [0, 6], "range": [0, 87], "nice": false, "zero": false}},
    "radius2": {"field": "r1"},
    "color": {"field": "v", "type": "quantitative",
     "scale": {"type": "linear", "domain": [16, 60, 175, 295, 395, 495, 625, 648], "range": ["#000000", "#140305", "#4d1218", "#e0103a", "#f08c55", "#f2e03c", "#ffffff", "#ffffff"], "interpolate": "rgb", "clamp": true},
     "legend": {"orient": "none", "legendX": 233, "legendY": 30, "gradientLength": 175, "gradientThickness": 18, "values": [100, 200, 300, 400, 500, 600], "title": null, "direction": "vertical"}}}},
  {"data": {"name": "hole"},
   "mark": {"type": "arc", "fill": "#ffffff", "stroke": "#1a1a1a", "strokeWidth": 1},
   "encoding": {
    "x": {"datum": 0, "type": "quantitative", "scale": {"domain": [-8.2069, 11.1034], "nice": false, "zero": false}, "axis": null},
    "y": {"datum": 0, "type": "quantitative", "scale": {"domain": [-6.069, 8.1379], "nice": false, "zero": false}, "axis": null},
    "theta": {"field": "a0", "type": "quantitative", "stack": null, "scale": {"domain": [0, 360], "range": [0, 6.283185307179586], "nice": false, "zero": false}},
    "theta2": {"field": "a1"},
    "radius": {"field": "r0", "type": "quantitative", "scale": {"type": "linear", "domain": [0, 6], "range": [0, 87], "nice": false, "zero": false}},
    "radius2": {"field": "r1"}}},
  {"data": {"name": "arrowB3"},
   "mark": {"type": "rule", "stroke": "#4b4b33", "strokeWidth": 4, "strokeCap": "round"},
   "encoding": {
    "x": {"field": "x", "type": "quantitative", "scale": {"domain": [-8.2069, 11.1034], "nice": false, "zero": false}, "axis": null},
    "y": {"field": "y", "type": "quantitative", "scale": {"domain": [-6.069, 8.1379], "nice": false, "zero": false}, "axis": null},
    "x2": {"field": "x2"}, "y2": {"field": "y2"}}},
  {"data": {"name": "arrowB3"},
   "mark": {"type": "rule", "stroke": "#d6d9a8", "strokeWidth": 2, "strokeCap": "round"},
   "encoding": {
    "x": {"field": "x", "type": "quantitative", "scale": {"domain": [-8.2069, 11.1034], "nice": false, "zero": false}, "axis": null},
    "y": {"field": "y", "type": "quantitative", "scale": {"domain": [-6.069, 8.1379], "nice": false, "zero": false}, "axis": null},
    "x2": {"field": "x2"}, "y2": {"field": "y2"}}}
 ]}
]
}
]
}
